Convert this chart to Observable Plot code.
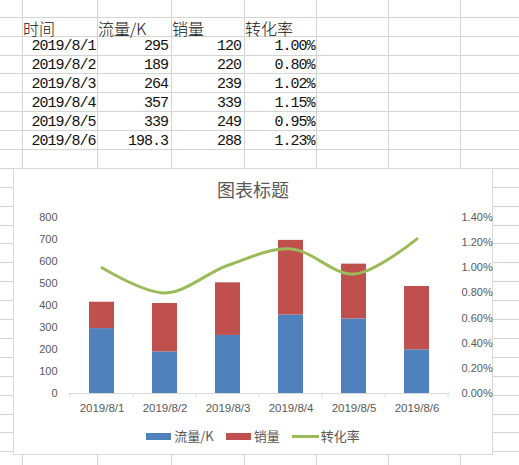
<!DOCTYPE html>
<html><head><meta charset="utf-8">
<script src="https://cdn.jsdelivr.net/npm/d3@7"></script>
<script src="https://cdn.jsdelivr.net/npm/@observablehq/plot@0.6"></script>
<style>
html,body{margin:0;padding:0;background:#fff;}
#page{position:relative;width:519px;height:465px;overflow:hidden;background:#fff;}
.gv{position:absolute;top:0;height:465px;width:1px;background:#d4d4d4;}
.gh{position:absolute;left:0;width:519px;height:1px;background:#d4d4d4;}
.cell{position:absolute;height:19px;line-height:19px;white-space:nowrap;color:#111;box-sizing:border-box;}
.hdr{font-family:"Noto Sans CJK SC";font-size:16px;font-weight:300;padding-left:1px;}
.num{font-family:"Liberation Mono";font-size:15px;letter-spacing:-1px;text-align:right;}
#chart{position:absolute;left:13px;top:168px;width:480px;height:287px;box-sizing:border-box;border:1px solid #d9d9d9;background:#fff;}
#title{position:absolute;left:0;right:0;top:8px;line-height:24px;text-align:center;font-family:"Noto Sans CJK SC";font-size:18px;color:#595959;}
#plot{position:absolute;left:0;top:36px;}
#legend{position:absolute;left:0;right:0;top:259px;height:16px;display:flex;justify-content:center;align-items:center;font-family:"Noto Sans CJK SC";font-size:13px;color:#595959;line-height:16px;}
.li{display:flex;align-items:center;margin:0 6px;}
.sw{display:inline-block;width:25px;height:7px;margin-right:3px;}
.ln{display:inline-block;width:27px;height:3px;margin-right:2px;}
</style>
</head>
<body>
<div id="page">
  <div id="chart">
    <div id="title"></div>
    <div id="plot"></div>
    <div id="legend"></div>
  </div>
</div>
<script>
// ---- data ----
const headers = ["时间", "流量/K", "销量", "转化率"];
const dates = ["2019/8/1", "2019/8/2", "2019/8/3", "2019/8/4", "2019/8/5", "2019/8/6"];
const flow = [295, 189, 264, 357, 339, 198.3];
const sales = [120, 220, 239, 339, 249, 288];
const rate = [1.00, 0.80, 1.02, 1.15, 0.95, 1.23]; // percent
const seriesNames = ["流量/K", "销量", "转化率"];
const seriesColors = ["#4F81BD", "#C0504D", "#9BBB59"];
const leftTicks = [0, 100, 200, 300, 400, 500, 600, 700, 800];
const rightTicks = [0, 0.2, 0.4, 0.6, 0.8, 1.0, 1.2, 1.4];
const chartTitle = "图表标题";

// ---- spreadsheet grid ----
const page = document.getElementById("page");
const chartBox = document.getElementById("chart");
const colX = [22, 97, 171, 244, 316, 388, 460];
const rowY0 = 16.7, rowH = 18.9;
for (const x of colX) {
  const d = document.createElement("div"); d.className = "gv"; d.style.left = x + "px";
  page.insertBefore(d, chartBox);
}
for (let i = 0; i < 25; i++) {
  const d = document.createElement("div"); d.className = "gh"; d.style.top = Math.round(rowY0 + i * rowH) + "px";
  page.insertBefore(d, chartBox);
}
function addCell(text, col, row, cls, padRight) {
  const d = document.createElement("div");
  d.className = "cell " + cls;
  d.textContent = text;
  d.style.left = colX[col] + "px";
  d.style.width = (colX[col + 1] - colX[col]) + "px";
  d.style.top = (rowY0 + row * rowH + 1.8) + "px";
  if (padRight != null) d.style.paddingRight = padRight + "px";
  page.insertBefore(d, chartBox);
}
headers.forEach((h, j) => addCell(h, j, 0, "hdr"));
dates.forEach((d, i) => {
  addCell(d, 0, i + 1, "num", 1.5);
  addCell(String(flow[i]), 1, i + 1, "num", 3);
  addCell(String(sales[i]), 2, i + 1, "num", 3);
  addCell(rate[i].toFixed(2) + "%", 3, i + 1, "num", 1.5);
});

// ---- chart ----
document.getElementById("title").textContent = chartTitle;
const k = leftTicks[leftTicks.length - 1] / rightTicks[rightTicks.length - 1];
const barData = dates.flatMap((d, i) => [
  {date: d, series: seriesNames[0], value: flow[i]},
  {date: d, series: seriesNames[1], value: sales[i]}
]);
const lineData = dates.map((d, i) => ({date: d, y: rate[i] * k}));

const boundaryTicks = (index, scales) => {
  const x = scales.x, y = scales.y;
  const bw = x.bandwidth(), step = x.step();
  const y0 = y(0);
  const g = d3.create("svg:g").attr("stroke", "#d9d9d9").attr("stroke-width", 1);
  const xs = dates.map(d => x(d) + bw / 2 - step / 2);
  xs.push(x(dates[dates.length - 1]) + bw / 2 + step / 2);
  for (const xx of xs) g.append("line").attr("x1", xx).attr("x2", xx).attr("y1", y0).attr("y2", y0 + 4);
  return g.node();
};

const plot = Plot.plot({
  width: 478, height: 215,
  marginLeft: 54, marginRight: 42, marginTop: 12, marginBottom: 27,
  style: {fontFamily: "Liberation Sans, sans-serif", fontSize: "10.5px", color: "#595959", background: "transparent", overflow: "visible"},
  x: {type: "band", domain: dates, paddingInner: 0.6, paddingOuter: 0.3, align: 0.5},
  y: {domain: [0, leftTicks[leftTicks.length - 1]]},
  color: {domain: seriesNames.slice(0, 2), range: seriesColors.slice(0, 2)},
  marks: [
    Plot.barY(barData, {x: "date", y: "value", fill: "series"}),
    Plot.ruleY([0], {stroke: "#d9d9d9"}),
    boundaryTicks,
    Plot.line(lineData, {x: "date", y: "y", stroke: seriesColors[2], strokeWidth: 3, curve: "catmull-rom", strokeLinecap: "round", strokeLinejoin: "round"}),
    Plot.axisY(leftTicks, {anchor: "left", tickSize: 0, tickPadding: 11, label: null, fontSize: 11}),
    Plot.axisY(rightTicks.map(t => t * k), {anchor: "right", tickSize: 0, tickPadding: 11, label: null, fontSize: 11, tickFormat: d => (d / k).toFixed(2) + "%"}),
    Plot.axisX({tickSize: 0, tickPadding: 10, label: null, fontSize: 11.5})
  ]
});
document.getElementById("plot").appendChild(plot);

// ---- legend ----
const legend = document.getElementById("legend");
seriesNames.forEach((name, i) => {
  const item = document.createElement("span"); item.className = "li";
  const sw = document.createElement("span");
  sw.className = i < 2 ? "sw" : "ln";
  sw.style.background = seriesColors[i];
  const t = document.createElement("span"); t.textContent = name;
  item.appendChild(sw); item.appendChild(t);
  legend.appendChild(item);
});
</script>
</body></html>
